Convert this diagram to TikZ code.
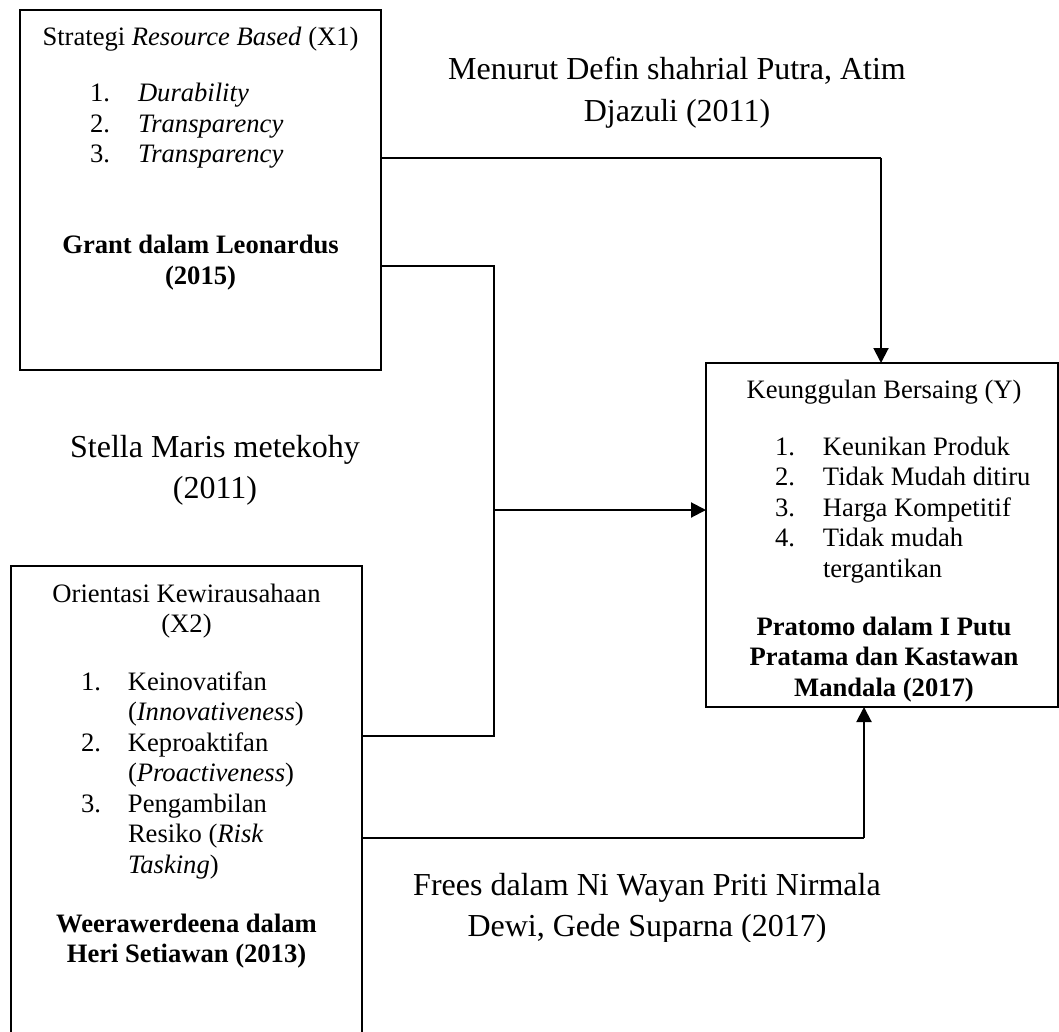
\documentclass[tikz,border=0pt]{standalone}
\usepackage{fontspec}
\setmainfont{Liberation Serif}
\usetikzlibrary{arrows.meta}

\newcommand\bxf{\fontsize{26.6}{30.5}\selectfont}
\newcommand\lbf{\fontsize{32}{41.5}\selectfont}

\begin{document}
\begin{tikzpicture}[x=1pt,y=-1pt,
  txt/.style={inner sep=0pt, outer sep=0pt, anchor=base},
  lst/.style={inner sep=0pt, outer sep=0pt, anchor=base west},
  boxA/.style={draw, line width=2.5pt, inner sep=0pt, outer sep=0pt},
  boxB/.style={draw, line width=1.3pt, inner sep=0pt, outer sep=0pt},
  thinln/.style={line width=1.1pt},
  arrln/.style={line width=2pt, -{Triangle[length=15pt,width=15pt]}},
]
\clip (0,0) rectangle (1059,1032);
\fill[white] (0,0) rectangle (1059,1032);

% boxes
\node[boxA, minimum width=361pt, minimum height=360pt] (x1) at (200.5,190) {};
\node[boxA, line width=2.2pt, minimum width=351pt, minimum height=500pt] (x2) at (186.5,816) {};
\node[boxB, minimum width=352pt, minimum height=344pt] (y) at (882,535) {};

% X1 text
\node[txt] (x1t) at (200.5,46) {\bxf Strategi \textit{Resource Based} (X1)};
\node[lst] (x1l) at (90,102) {\bxf\begin{tabular}[t]{@{}p{48pt}@{}l@{}}1.&\textit{Durability}\\2.&\textit{Transparency}\\3.&\textit{Transparency}\end{tabular}};
\node[txt] (x1s) at (200.5,254) {\bxf\bfseries\begin{tabular}[t]{@{}c@{}}Grant dalam Leonardus\\(2015)\end{tabular}};

% X2 text
\node[txt] (x2t) at (186.5,602) {\bxf\begin{tabular}[t]{@{}c@{}}Orientasi Kewirausahaan\\(X2)\end{tabular}};
\node[lst] (x2l) at (81,690) {\bxf\begin{tabular}[t]{@{}p{47pt}@{}l@{}}1.&Keinovatifan\\&(\textit{Innovativeness})\\2.&Keproaktifan\\&(\textit{Proactiveness})\\3.&Pengambilan\\&Resiko (\textit{Risk}\\&\textit{Tasking})\end{tabular}};
\node[txt] (x2s) at (186.5,932) {\bxf\bfseries\begin{tabular}[t]{@{}c@{}}Weerawerdeena dalam\\Heri Setiawan (2013)\end{tabular}};

% Y text
\node[txt] (yt) at (884,398) {\bxf Keunggulan Bersaing (Y)};
\node[lst] (yl) at (775,455) {\bxf\begin{tabular}[t]{@{}p{48pt}@{}l@{}}1.&Keunikan Produk\\2.&Tidak Mudah ditiru\\3.&Harga Kompetitif\\4.&Tidak mudah\\&tergantikan\end{tabular}};
\node[txt] (ys) at (884,635) {\bxf\bfseries\begin{tabular}[t]{@{}c@{}}Pratomo dalam I Putu\\Pratama dan Kastawan\\Mandala (2017)\end{tabular}};

% free labels
\node[txt] (l1) at (677,80) {\lbf\begin{tabular}[t]{@{}c@{}}Menurut Defin shahrial Putra, Atim\\Djazuli (2011)\end{tabular}};
\node[txt] (l2) at (215,457) {\lbf\begin{tabular}[t]{@{}c@{}}Stella Maris metekohy\\(2011)\end{tabular}};
\begin{scope}
\clip (0,0) rectangle (1059,941);
\node[txt] (l3) at (647,895) {\lbf\begin{tabular}[t]{@{}c@{}}Frees dalam Ni Wayan Priti Nirmala\\Dewi, Gede Suparna (2017)\end{tabular}};
\end{scope}

% connectors
\coordinate (k1) at (881,158);
\coordinate (k2) at (494,266);
\coordinate (k3) at (494,736);
\coordinate (k4) at (494,510);
\coordinate (k5) at (864,838);
\draw[thinln] (x1.east |- k1) -- (k1);
\draw[arrln] (k1) -- (k1 |- y.north);
\draw[thinln] (x1.east |- k2) -- (k2) -- (k3) -- (x2.east |- k3);
\draw[arrln] (k4) -- (y.west |- k4);
\draw[thinln] (x2.east |- k5) -- (k5);
\draw[arrln] (k5) -- (k5 |- y.south);
\end{tikzpicture}
\end{document}
